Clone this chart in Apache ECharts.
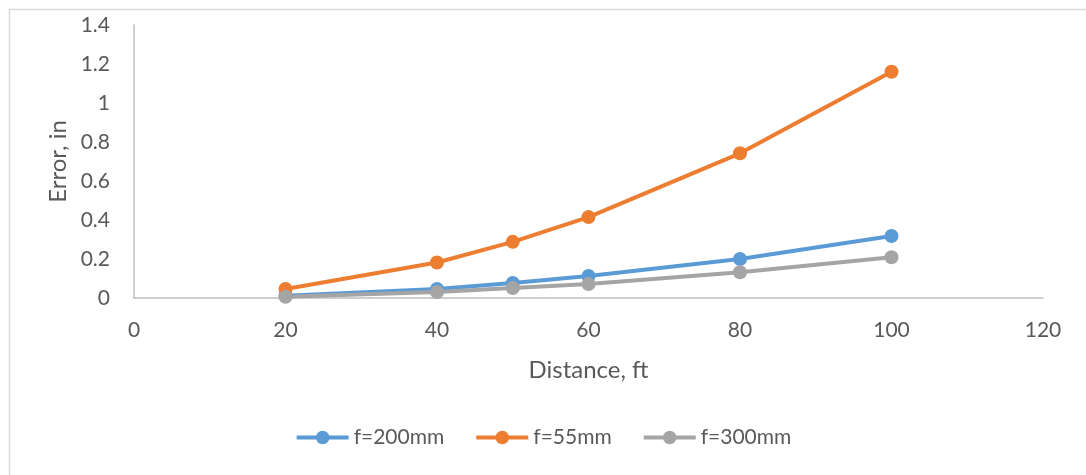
<!DOCTYPE html>
<html>
<head>
<meta charset="utf-8">
<script src="https://cdn.jsdelivr.net/npm/echarts@6/dist/echarts.min.js"></script>
<style>html,body{margin:0;padding:0;background:#fff}#c{width:1086px;height:475px}</style>
</head>
<body>
<div id="c"></div>
<script>
const distances = [20, 40, 50, 60, 80, 100];
const f200 = [0.012, 0.046, 0.077, 0.113, 0.2, 0.318];
const f55 = [0.046, 0.182, 0.288, 0.415, 0.742, 1.16];
const f300 = [0.006, 0.031, 0.051, 0.072, 0.132, 0.209];
const seriesNames = ['f=200mm', 'f=55mm', 'f=300mm'];
const colors = ['#5b9bd5', '#ed7d31', '#a5a5a5'];

const FONT = 'Lato, "Open Sans", sans-serif';
const chart = echarts.init(document.getElementById('c'), null, {renderer: 'canvas'});
const mk = (name, vals, color) => ({
  name, type: 'line', data: distances.map((d, i) => [d, vals[i]]),
  symbol: 'circle', symbolSize: 14,
  lineStyle: {width: 4, color}, itemStyle: {color},
  emphasis: {disabled: true}
});
chart.setOption({
  animation: false,
  textStyle: {fontFamily: FONT},
  graphic: [{type: 'rect', left: 7, top: 7, shape: {width: 1100, height: 500},
    style: {fill: 'none', stroke: '#d9d9d9', lineWidth: 1.5}, silent: true}],
  grid: {left: 134, right: 43, top: 25, bottom: 177},
  xAxis: {
    type: 'value', min: 0, max: 120, interval: 20,
    name: 'Distance, ft', nameLocation: 'middle', nameGap: 60,
    nameTextStyle: {fontSize: 24, color: '#595959', fontFamily: FONT},
    axisLine: {show: true, lineStyle: {color: '#bfbfbf', width: 1.5}},
    axisTick: {show: false}, splitLine: {show: false},
    axisLabel: {fontSize: 21, color: '#595959', margin: 22, fontFamily: FONT}
  },
  yAxis: {
    type: 'value', min: 0, max: 1.4, interval: 0.2,
    name: 'Error, in', nameLocation: 'middle', nameGap: 64,
    nameTextStyle: {fontSize: 24, color: '#595959', fontFamily: FONT},
    axisLine: {show: true, lineStyle: {color: '#bfbfbf', width: 1.5}},
    axisTick: {show: false}, splitLine: {show: false},
    axisLabel: {fontSize: 21, color: '#595959', margin: 24, fontFamily: FONT,
      formatter: v => String(Math.round(v * 10) / 10)}
  },
  legend: {
    bottom: 22, left: 'center', itemGap: 30, itemWidth: 52, itemHeight: 17,
    lineStyle: {width: 4},
    textStyle: {fontSize: 21, color: '#595959', fontFamily: FONT},
    data: seriesNames
  },
  series: [mk(seriesNames[0], f200, colors[0]), mk(seriesNames[1], f55, colors[1]), mk(seriesNames[2], f300, colors[2])]
});
</script>
</body>
</html>
